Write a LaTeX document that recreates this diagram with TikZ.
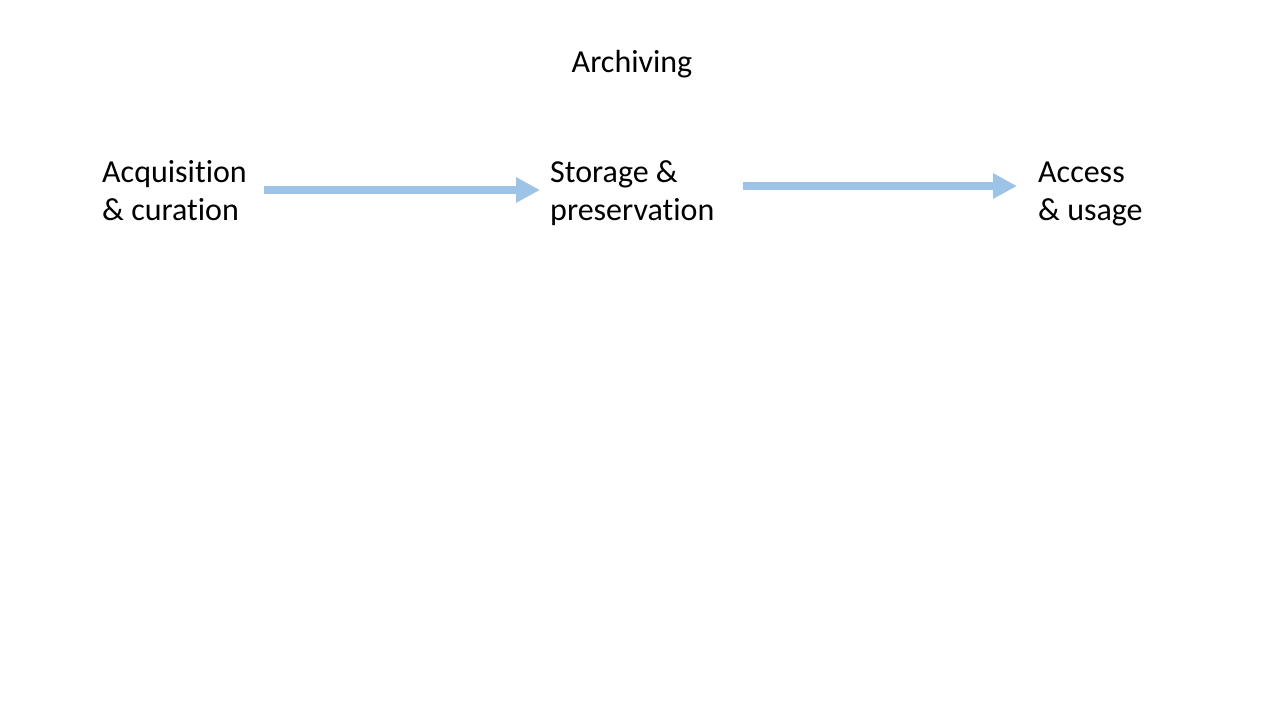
\documentclass[tikz,border=0pt]{standalone}
\usepackage{fontspec}
\setmainfont{Carlito}[Ligatures=NoCommon]
\usetikzlibrary{arrows.meta}
\definecolor{arrowblue}{HTML}{9DC3E6}
\begin{document}
\begin{tikzpicture}[x=1pt,y=-1pt,
  lbl/.style={font=\fontsize{32}{38}\selectfont, align=left, inner sep=0pt, anchor=base west},
  flow/.style={line width=8pt, draw=arrowblue, -{Triangle[length=24pt,width=24pt,fill=arrowblue]}}]
\useasboundingbox (0,0) rectangle (1280,720);
\node[lbl] (acq) at (102,220) {Acquisition\\\& curation};
\node[lbl] (sto) at (550,220) {Storage \&\\preservation};
\node[lbl] (acc) at (1038,220) {Access\\\& usage};
\node[lbl, anchor=base] (arch) at (632,72) {Archiving};
\draw[flow, shorten <=17pt, shorten >=10pt] (acq.east |- 0,190) -- (sto.west |- 0,190);
\draw[flow, shorten <=28pt, shorten >=21pt] (sto.east |- 0,186) -- (acc.west |- 0,186);
\end{tikzpicture}
\end{document}
